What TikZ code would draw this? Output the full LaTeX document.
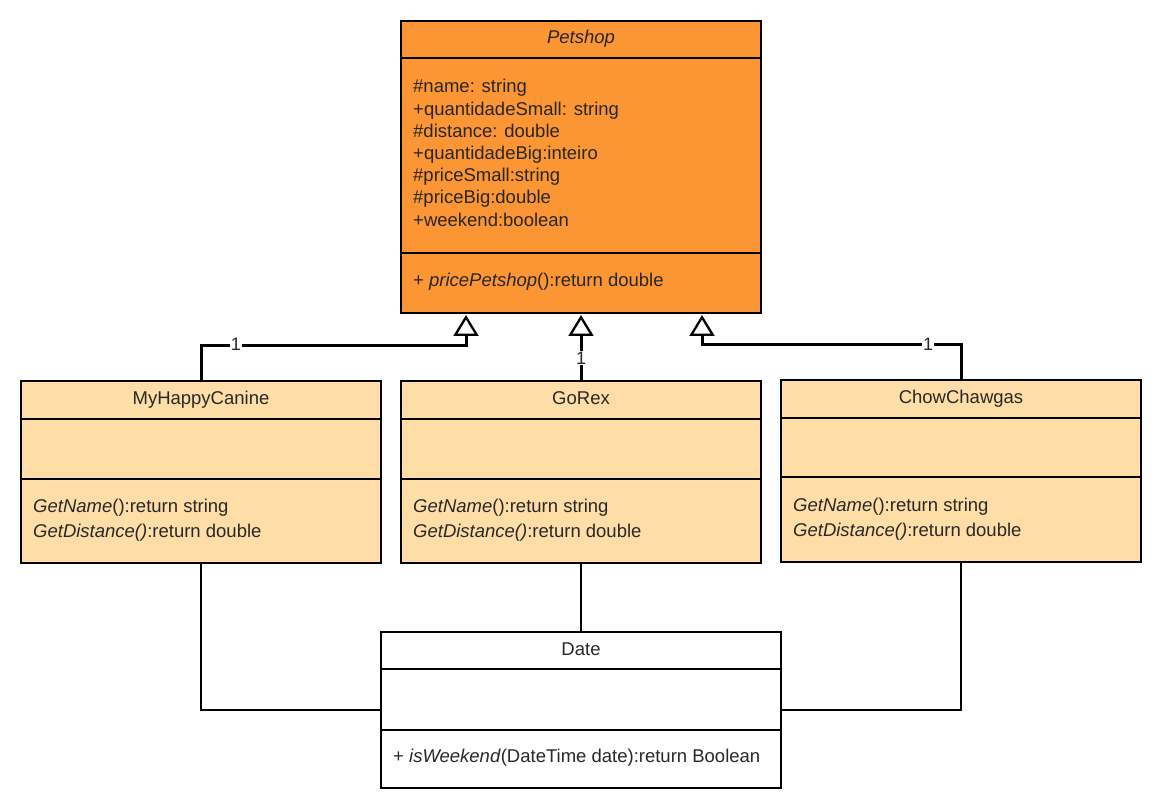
\documentclass[tikz,border=0pt]{standalone}
\usepackage{fontspec}
\setmainfont{Liberation Sans}
\usetikzlibrary{arrows.meta}
\definecolor{petorange}{RGB}{252,149,51}
\definecolor{petlight}{RGB}{255,221,166}
\definecolor{petink}{RGB}{40,40,40}
\newcommand\umlfont{\fontsize{18.5}{22.2}\selectfont}

\begin{document}
\begin{tikzpicture}[x=1pt, y=-1pt,
	classbox/.style={draw, line width=2.5pt, minimum width=360pt, inner sep=0pt},
	divider/.style={line width=2.5pt},
	title/.style={font=\umlfont, text=petink, anchor=base, inner sep=0pt},
	member/.style={font=\umlfont, text=petink, anchor=base west, inner sep=0pt},
	inherit/.style={line width=3pt, -{Triangle[open, length=21pt, width=25pt, line width=2.3pt]}},
	assoc/.style={line width=2.6pt},
	mult/.style={font=\fontsize{18}{18}\selectfont, text=petink, fill=white, inner sep=0.6pt}]
	\useasboundingbox (0,0) rectangle (1162,810);

	% classes
	\node[classbox, fill=petorange, minimum height=292pt] (petshop) at (581,167) {};
	\node[classbox, fill=petlight, minimum height=182pt] (mhc) at (201,472) {};
	\node[classbox, fill=petlight, minimum height=182pt] (gorex) at (581,472) {};
	\node[classbox, fill=petlight, minimum height=182pt] (chow) at (961,471) {};
	\node[classbox, fill=white, minimum width=400pt, minimum height=156pt] (date) at (581,710) {};

	% compartments
	\draw[divider] (petshop.west |- 0,58) -- (petshop.east |- 0,58);
	\draw[divider] (petshop.west |- 0,253) -- (petshop.east |- 0,253);
	\foreach \b in {mhc,gorex} {
		\draw[divider] (\b.west |- 0,419) -- (\b.east |- 0,419);
		\draw[divider] (\b.west |- 0,479) -- (\b.east |- 0,479);
	}
	\draw[divider] (chow.west |- 0,418) -- (chow.east |- 0,418);
	\draw[divider] (chow.west |- 0,477) -- (chow.east |- 0,477);
	\draw[divider] (date.west |- 0,669) -- (date.east |- 0,669);
	\draw[divider] (date.west |- 0,730) -- (date.east |- 0,730);

	% texts
	\node[title] (petshop-name) at (581,44) {\textit{Petshop}};
	\foreach \t [count=\i] in {\#name: string, +quantidadeSmall: string, \#distance: double,
		+quantidadeBig:inteiro, \#priceSmall:string, \#priceBig:double, +weekend:boolean}
		\node[member] (petshop-attr\i) at (413,{93+22.2*(\i-1)}) {\t};
	\node[member] (petshop-op) at (413,287) {+ \textit{pricePetshop}():return double};

	\node[title] (mhc-name) at (201,404) {MyHappyCanine};
	\node[title] (gorex-name) at (581,404) {GoRex};
	\node[title] (chow-name) at (961,403) {ChowChawgas};
	\foreach \b/\x/\y in {mhc/33/512, gorex/413/512, chow/793/511} {
		\node[member] (\b-op1) at (\x,\y) {\textit{GetName}():return string};
		\node[member] (\b-op2) at (\x,\y+25) {\textit{GetDistance()}:return double};
	}

	\node[title] (date-name) at (581,655) {Date};
	\node[member] (date-op) at (393,762) {+ \textit{isWeekend}(DateTime date):return Boolean};

	% generalisations
	\coordinate (tipA) at (466,315);
	\coordinate (tipB) at (581,315);
	\coordinate (tipC) at (702,315);
	\draw[inherit] (mhc.north) -- ++(0,-34) -| (tipA);
	\draw[inherit] (gorex.north) -- (tipB);
	\draw[inherit] (chow.north) -- ++(0,-34) -| (tipC);
	\node[mult] (multA) at (236,344.5) {1};
	\node[mult] (multB) at (581,358) {1};
	\node[mult] (multC) at (928,344.5) {1};

	% associations
	\draw[assoc] (mhc.south) |- (date.west);
	\draw[assoc] (gorex.south) -- (date.north);
	\draw[assoc] (chow.south) |- (date.east);
\end{tikzpicture}
\end{document}
